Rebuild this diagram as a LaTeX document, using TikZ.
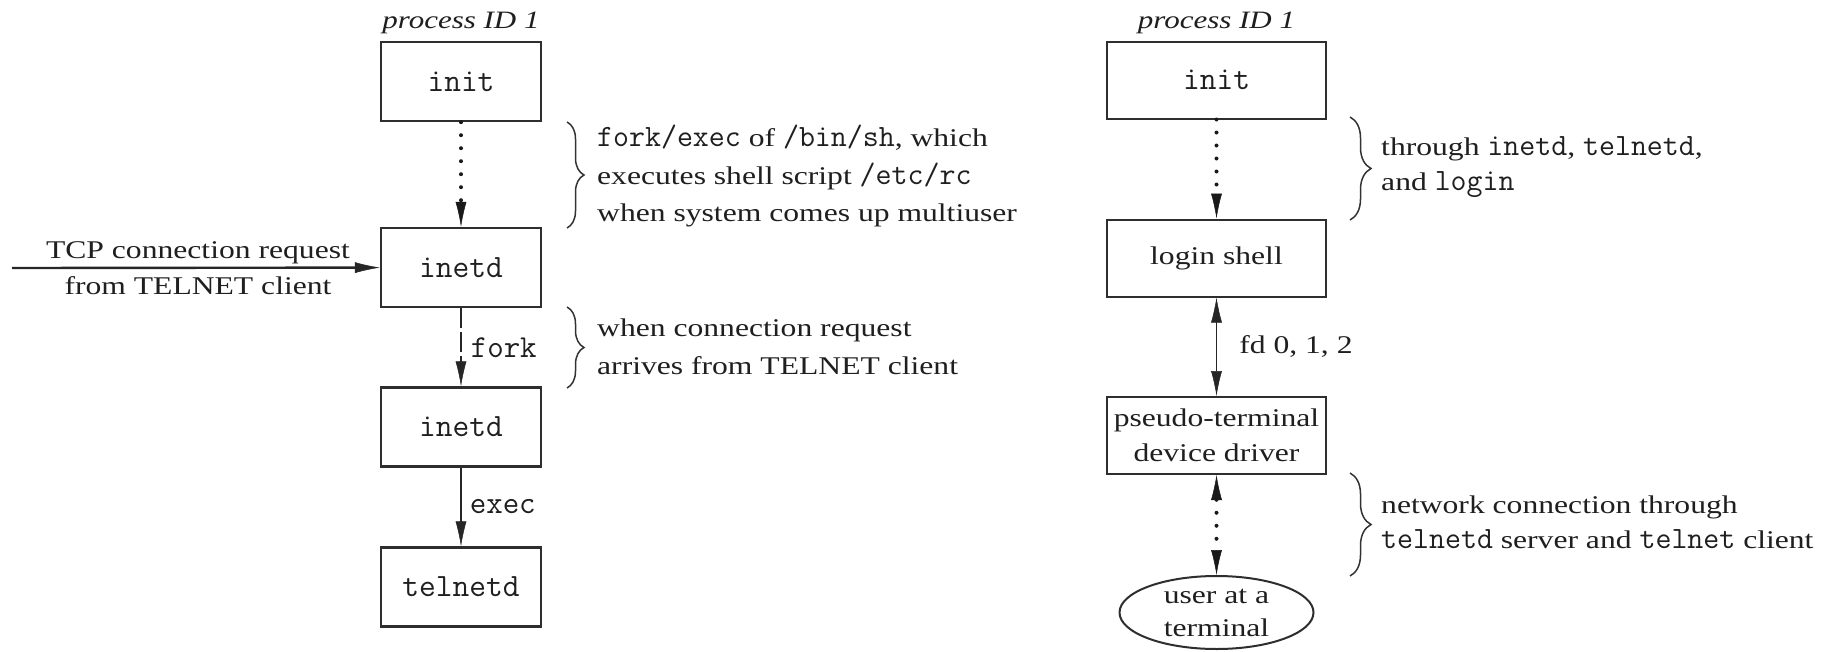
\documentclass[tikz,border=0pt]{standalone}
\usepackage{fontspec}
\setmainfont{Liberation Serif}[FakeStretch=1.24]
\usetikzlibrary{arrows.meta,shapes.geometric,decorations.pathreplacing}

% inline program names, set in the typewriter face
\newcommand{\mono}[1]{{\ttfamily\fontsize{31}{37}\selectfont #1}}

\tikzset{
  ink/.style={draw=black!82},
  boxL/.style={ink, line width=2.4pt, minimum width=160pt, minimum height=79pt,
    inner sep=0pt, font=\ttfamily\fontsize{32.5}{35}\selectfont},
  boxR/.style={ink, line width=2pt, minimum width=219pt, minimum height=77pt,
    inner sep=0pt, align=center, font=\fontsize{25.5}{35}\selectfont},
  userell/.style={ink, ellipse, line width=2pt, minimum width=194pt, minimum height=73pt,
    inner sep=0pt, align=center, font=\fontsize{25.5}{33}\selectfont},
  pid/.style={inner sep=0pt, font=\itshape\fontsize{25}{27}\selectfont},
  txtL/.style={inner sep=0pt, align=left, font=\fontsize{25.5}{37.5}\selectfont},
  txtR/.style={inner sep=0pt, align=left, font=\fontsize{25.5}{35}\selectfont},
  lbl/.style={inner sep=0pt, anchor=west, font=\ttfamily\fontsize{32}{35}\selectfont},
  lblserif/.style={inner sep=0pt, anchor=west, font=\fontsize{25.5}{35}\selectfont},
  link/.style={draw=black!85, line width=1.6pt},
  dotline/.style={draw=black!90, line width=4pt, line cap=round, dash pattern=on 0pt off 13pt},
  fwd/.style={-{Latex[length=25pt,width=11pt,line width=0.5pt]}},
  bothways/.style={{Latex[length=25pt,width=11pt,line width=0.5pt]}-{Latex[length=25pt,width=11pt,line width=0.5pt]}},
  bracket/.style={draw=black!80, line width=1.5pt, decorate},
}

\begin{document}
\begin{tikzpicture}[x=1pt, y=-1pt, every node/.append style={text=black!88}]
\useasboundingbox (0,0) rectangle (1837,651);
\fill[white] (0,0) rectangle (1837,651);

% ---------------- process start-up of telnetd ----------------
\node[pid] (pidL) at (461,23) {process ID 1};
\node[boxL] (initL) at (461,81.5) {init};
\node[boxL] (inetdA) at (461,267.5) {inetd};
\node[boxL] (inetdB) at (461,427) {inetd};
\node[boxL] (telnetd) at (461,587) {telnetd};

\draw[dotline, fwd] (initL) -- (inetdA);

\coordinate (tcpsrc) at (12,268);
\draw[link, line width=2.4pt, fwd] (tcpsrc) -- (inetdA);
\node[txtL, align=center, font=\fontsize{25.5}{36}\selectfont] (tcp) at (198,268)
  {TCP connection request\\from TELNET client};

\draw[link, dash pattern=on 20pt off 4pt, fwd] (inetdA) --
  node[lbl, xshift=9pt] (forklbl) {fork} (inetdB);
\draw[link, fwd] (inetdB) --
  node[lbl, xshift=8pt] (execlbl) {exec} (telnetd);

\draw[bracket, decoration={brace, amplitude=17pt}] (567,122) -- (567,228);
\node[txtL, anchor=west] (noteA) at (597,176)
  {\mono{fork/exec} of \mono{/bin/sh}, which\\
   executes shell script \mono{/etc/rc}\\
   when system comes up multiuser};

\draw[bracket, decoration={brace, amplitude=17pt}] (567,307) -- (567,388);
\node[txtL, anchor=west] (noteB) at (597,347)
  {when connection request\\arrives from TELNET client};

% ---------------- login session over telnet ----------------
\node[pid] (pidR) at (1216.5,23) {process ID 1};
\node[boxR, font=\ttfamily\fontsize{32.5}{35}\selectfont] (initR) at (1216.5,80) {init};
\node[boxR] (login) at (1216.5,258) {login shell};
\node[boxR] (pty) at (1216.5,435.5) {pseudo-terminal\\device driver};
\node[userell] (user) at (1216.5,612.5) {user at a\\terminal};

\draw[dotline, fwd] (initR) -- (login);
\draw[link, bothways] (login) --
  node[lblserif, xshift=22pt] (fdlbl) {fd 0, 1, 2} (pty);
\draw[dotline, bothways] (pty) -- (user);

\draw[bracket, decoration={brace, amplitude=21pt}] (1350,117) -- (1350,220);
\node[txtR, anchor=west] (noteC) at (1381,167.5)
  {through \mono{inetd}, \mono{telnetd},\\and \mono{login}};

\draw[bracket, decoration={brace, amplitude=21pt}] (1350,473) -- (1350,576);
\node[txtR, anchor=west] (noteD) at (1381,522.5)
  {network connection through\\\mono{telnetd} server and \mono{telnet} client};
\end{tikzpicture}
\end{document}
